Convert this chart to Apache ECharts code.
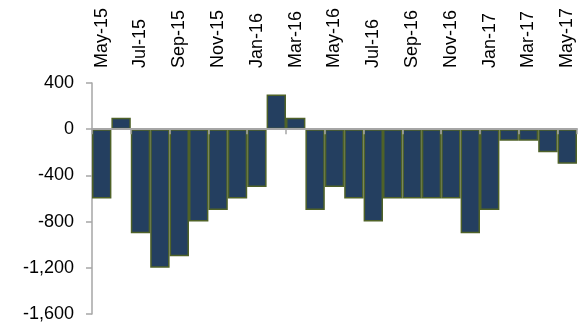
<!DOCTYPE html>
<html>
<head>
<meta charset="utf-8">
<script src="https://cdn.jsdelivr.net/npm/echarts@6/dist/echarts.min.js"></script>
<style>html,body{margin:0;padding:0;background:#fff;}#c{width:586px;height:329px;}</style>
</head>
<body>
<div id="c"></div>
<script>
var categories = ['May-15','Jun-15','Jul-15','Aug-15','Sep-15','Oct-15','Nov-15','Dec-15','Jan-16','Feb-16','Mar-16','Apr-16','May-16','Jun-16','Jul-16','Aug-16','Sep-16','Oct-16','Nov-16','Dec-16','Jan-17','Feb-17','Mar-17','Apr-17','May-17'];
var values = [-600,100,-900,-1200,-1100,-800,-700,-600,-500,300,100,-700,-500,-600,-800,-600,-600,-600,-600,-900,-700,-100,-100,-200,-300];
var yMin = -1600, yMax = 400, yStep = 400;

var chart = echarts.init(document.getElementById('c'), null, {renderer:'canvas'});
var font = 'Liberation Sans, Arial, sans-serif';
chart.setOption({
  animation: false,
  grid: {left: 92, right: 9, top: 83, bottom: 15, containLabel: false},
  xAxis: [
    {
      type: 'category', data: categories, position: 'bottom', z: 5,
      boundaryGap: true,
      axisLine: {onZero: true, lineStyle: {color: '#a6a6a6', width: 2}},
      axisTick: {show: true, interval: 1, length: 5, inside: false, lineStyle: {color: '#a6a6a6', width: 1.5}},
      axisLabel: {show: false},
      splitLine: {show: false}
    },
    {
      type: 'category', data: categories, position: 'top',
      boundaryGap: true,
      axisLine: {show: false, onZero: false},
      axisTick: {show: false},
      axisLabel: {show: true, interval: 1, rotate: -90, margin: 15, fontSize: 18, color: '#000', fontFamily: font},
      splitLine: {show: false}
    }
  ],
  yAxis: {
    type: 'value', min: yMin, max: yMax, interval: yStep,
    axisLine: {show: true, lineStyle: {color: '#a6a6a6', width: 1.5}},
    axisTick: {show: true, length: 6, lineStyle: {color: '#a6a6a6', width: 1.5}},
    axisLabel: {margin: 18, fontSize: 18, color: '#000', fontFamily: font,
      formatter: function(v){ return v.toLocaleString('en-US'); }},
    splitLine: {show: false}
  },
  series: [{
    type: 'bar', xAxisIndex: 0, data: values,
    barCategoryGap: '0%', barGap: '0%',
    itemStyle: {color: '#243f60', borderColor: '#4f6228', borderWidth: 1.5}
  }]
});
</script>
</body>
</html>
